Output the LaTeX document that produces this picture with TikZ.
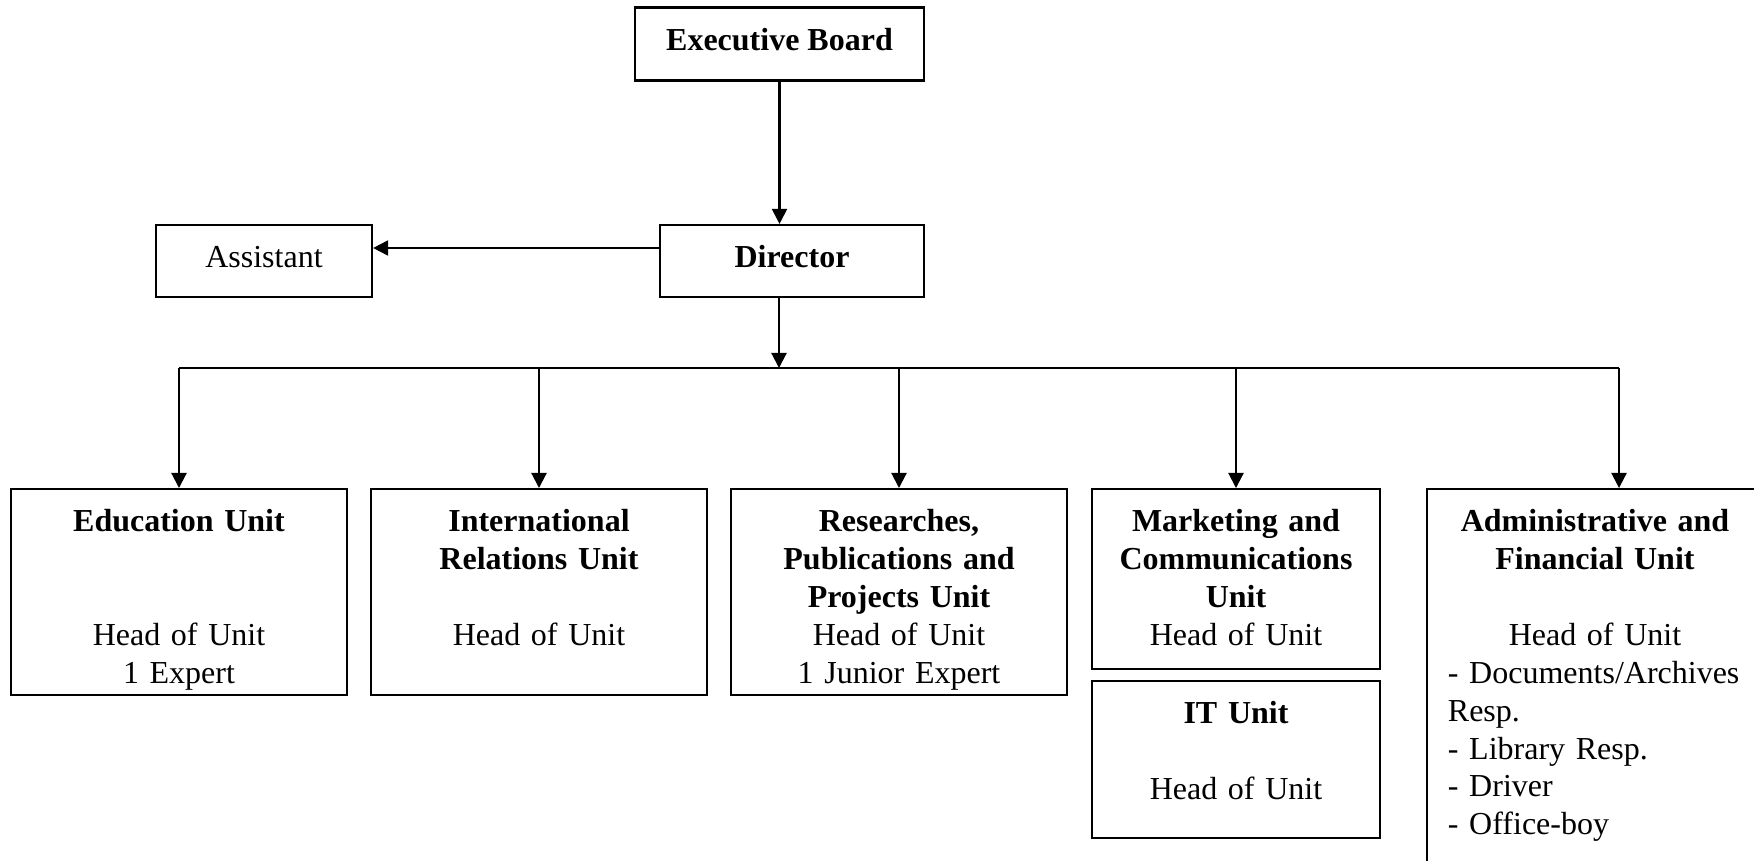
\documentclass[tikz,border=0pt]{standalone}
\usepackage{fontspec}
\setmainfont{Liberation Serif}
\usetikzlibrary{arrows.meta}
\tikzset{
  box/.style={draw, line width=0.6pt, inner sep=0pt, text height=0.22cm, text depth=0.10cm},
  unit/.style={draw, line width=0.6pt, anchor=north, inner sep=0pt, align=center, text height=0.42cm},
  link/.style={line width=0.6pt, -{Triangle[length=4.3pt,width=4.3pt]}}
}
\begin{document}
\begin{tikzpicture}[x=0.01cm, y=-0.01cm, font=\fontsize{9.1pt}{10.8pt}\selectfont]
  \useasboundingbox (0,0) rectangle (1754,860);
  \node[box, minimum width=2.89cm, minimum height=0.73cm] (board) at (779.5,44) {\bfseries Executive Board};
  \node[box, minimum width=2.64cm, minimum height=0.72cm] (director) at (792,261) {\bfseries Director};
  \node[box, minimum width=2.16cm, minimum height=0.72cm] (assistant) at (264,261) {Assistant};
  \node[unit, text width=3.36cm, text depth=1.64cm] (education) at (179,488)
    {{\bfseries Education Unit}\\[0.76cm] Head of Unit\\ 1 Expert};
  \node[unit, text width=3.36cm, text depth=1.64cm] (relations) at (539,488)
    {{\bfseries International\\ Relations Unit}\\[0.38cm] Head of Unit};
  \node[unit, text width=3.36cm, text depth=1.64cm] (research) at (899,488)
    {{\bfseries Researches,\\ Publications and\\ Projects Unit}\\ Head of Unit\\ 1 Junior Expert};
  \node[unit, text width=2.88cm, text depth=1.38cm] (marketing) at (1236,488)
    {{\bfseries Marketing and\\ Communications\\ Unit}\\ Head of Unit};
  \node[unit, text width=2.88cm, text depth=1.15cm] (itunit) at (1236,680)
    {{\bfseries IT Unit}\\[0.38cm] Head of Unit};
  \node[unit, inner xsep=0.21cm, text width=2.94cm, text depth=3.78cm] (admin) at (1595,488)
    {{\bfseries Administrative and\\ Financial Unit}\\[0.38cm] Head of Unit\par
     \raggedright - Documents/Archives\\ Resp.\\ - Library Resp.\\ - Driver\\ - Office-boy\par};
  \coordinate (bus) at (779,368);
  \coordinate (admintop) at ([xshift=0.24cm]admin.north);
  % connectors
  \draw[line width=0.6pt] (education.north |- bus) -- (admintop |- bus);
  \begin{scope}[link]
    \draw (board.south) to (board.south |- director.north);
    \draw ([yshift=0.13cm]director.west) to ([yshift=0.13cm]assistant.east);
    \draw (bus |- director.south) to (bus);
    \draw (education.north |- bus) to (education.north);
    \draw (relations.north |- bus) to (relations.north);
    \draw (research.north |- bus) to (research.north);
    \draw (marketing.north |- bus) to (marketing.north);
    \draw (admintop |- bus) to (admintop);
  \end{scope}
\end{tikzpicture}
\end{document}
